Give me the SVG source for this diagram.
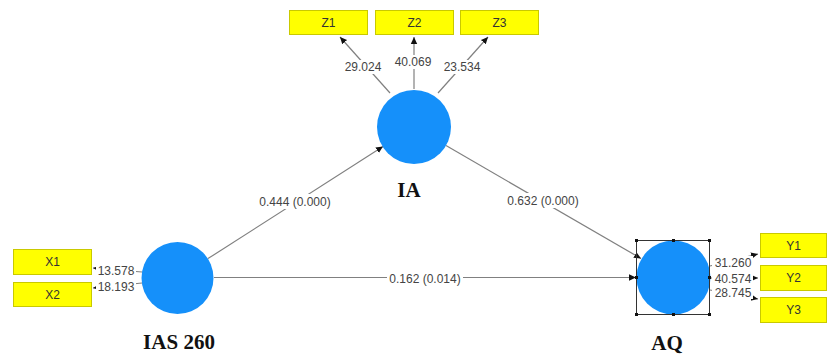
<svg xmlns="http://www.w3.org/2000/svg" width="827" height="356" viewBox="0 0 827 356">
  <defs>
    <style>
      .ind rect { fill: #ffff00; stroke: #c9c900; stroke-width: 1; }
      .ind text { font-family: "Liberation Sans", Arial, sans-serif; font-size: 12px; fill: #333; text-anchor: middle; }
      .lv circle { fill: #1590fa; }
      .lv text { font-family: "Liberation Serif", "Times New Roman", serif; font-size: 21px; font-weight: bold; fill: #111; text-anchor: middle; }
      .edge { stroke: #808080; stroke-width: 1.2; fill: none; marker-end: url(#arrow); }
      .lbl-bg { fill: #fff; }
      .lbl { font-family: "Liberation Sans", Arial, sans-serif; font-size: 12px; fill: #444; text-anchor: middle; }
      .sel { fill: none; stroke: #333; stroke-width: 1; }
      .handle { fill: #111; }
    </style>
    <marker id="arrow" markerUnits="userSpaceOnUse" markerWidth="8" markerHeight="8" viewBox="0 0 8 8" refX="7" refY="4" orient="auto">
      <path d="M0,0.8 L7,4 L0,7.2 Z" fill="#111"/>
    </marker>
  </defs>
  <rect width="827" height="356" fill="#fff"/>

  <!-- connectors with their values -->
  <g id="connectors">
    <line class="edge" x1="208" y1="258.6" x2="383" y2="146.5"/>
    <line class="edge" x1="446" y1="145.6" x2="641" y2="258.5"/>
    <line class="edge" x1="214" y1="277.5" x2="636" y2="277.5"/>

    <line class="edge" x1="390" y1="93" x2="340" y2="37"/>
    <line class="edge" x1="414" y1="89" x2="414" y2="37"/>
    <line class="edge" x1="438" y1="93" x2="488" y2="37"/>

    <line class="edge" x1="142" y1="272" x2="93" y2="268"/>
    <line class="edge" x1="142" y1="283" x2="93" y2="288"/>

    <line class="edge" x1="710" y1="266" x2="758" y2="254"/>
    <line class="edge" x1="710" y1="278" x2="758" y2="278"/>
    <line class="edge" x1="710" y1="290" x2="758" y2="299"/>

    <rect class="lbl-bg" x="256" y="194" width="78" height="15"/>
    <text class="lbl" x="295" y="206">0.444 (0.000)</text>
    <rect class="lbl-bg" x="504" y="193" width="78" height="15"/>
    <text class="lbl" x="543" y="205">0.632 (0.000)</text>
    <rect class="lbl-bg" x="387" y="271" width="76" height="15"/>
    <text class="lbl" x="425" y="283">0.162 (0.014)</text>

    <rect class="lbl-bg" x="343" y="60" width="40" height="14"/>
    <text class="lbl" x="363" y="71">29.024</text>
    <rect class="lbl-bg" x="393" y="55" width="40" height="14"/>
    <text class="lbl" x="413" y="66">40.069</text>
    <rect class="lbl-bg" x="442" y="60" width="40" height="14"/>
    <text class="lbl" x="462" y="71">23.534</text>

    <rect class="lbl-bg" x="96" y="264" width="40" height="13"/>
    <text class="lbl" x="116" y="275">13.578</text>
    <rect class="lbl-bg" x="96" y="280" width="40" height="13"/>
    <text class="lbl" x="116" y="291">18.193</text>

    <rect class="lbl-bg" x="712" y="256" width="41" height="13"/>
    <text class="lbl" x="733" y="267">31.260</text>
    <rect class="lbl-bg" x="712" y="272" width="41" height="13"/>
    <text class="lbl" x="733" y="283">40.574</text>
    <rect class="lbl-bg" x="712" y="286" width="41" height="13"/>
    <text class="lbl" x="733" y="297">28.745</text>
  </g>

  <!-- latent variables -->
  <g id="IA" class="lv">
    <circle cx="414" cy="127" r="37"/>
    <text x="409" y="197">IA</text>
  </g>
  <g id="IAS260" class="lv">
    <circle cx="177.5" cy="278" r="36"/>
    <text x="179" y="349">IAS 260</text>
  </g>
  <g id="AQ" class="lv">
    <circle cx="673.5" cy="277.5" r="37"/>
    <text x="667" y="350">AQ</text>
    <rect class="sel" x="636.5" y="240.5" width="73" height="74"/>
    <rect class="handle" x="635" y="239" width="3" height="3"/>
    <rect class="handle" x="672" y="239" width="3" height="3"/>
    <rect class="handle" x="708" y="239" width="3" height="3"/>
    <rect class="handle" x="635" y="276" width="3" height="3"/>
    <rect class="handle" x="708" y="276" width="3" height="3"/>
    <rect class="handle" x="635" y="313" width="3" height="3"/>
    <rect class="handle" x="672" y="313" width="3" height="3"/>
    <rect class="handle" x="708" y="313" width="3" height="3"/>
  </g>

  <!-- indicators -->
  <g id="Z1" class="ind"><rect x="289.5" y="10.5" width="78" height="24"/><text x="328.5" y="27">Z1</text></g>
  <g id="Z2" class="ind"><rect x="375.5" y="10.5" width="78" height="24"/><text x="414.5" y="27">Z2</text></g>
  <g id="Z3" class="ind"><rect x="460.5" y="10.5" width="78" height="24"/><text x="499.5" y="27">Z3</text></g>

  <g id="X1" class="ind"><rect x="13.5" y="249.5" width="78" height="25"/><text x="52.5" y="266">X1</text></g>
  <g id="X2" class="ind"><rect x="13.5" y="282.5" width="78" height="24"/><text x="52.5" y="299">X2</text></g>

  <g id="Y1" class="ind"><rect x="760.5" y="233.5" width="66" height="24"/><text x="793.5" y="250">Y1</text></g>
  <g id="Y2" class="ind"><rect x="760.5" y="265.5" width="66" height="25"/><text x="793.5" y="282">Y2</text></g>
  <g id="Y3" class="ind"><rect x="760.5" y="297.5" width="66" height="25"/><text x="793.5" y="314">Y3</text></g>
</svg>
